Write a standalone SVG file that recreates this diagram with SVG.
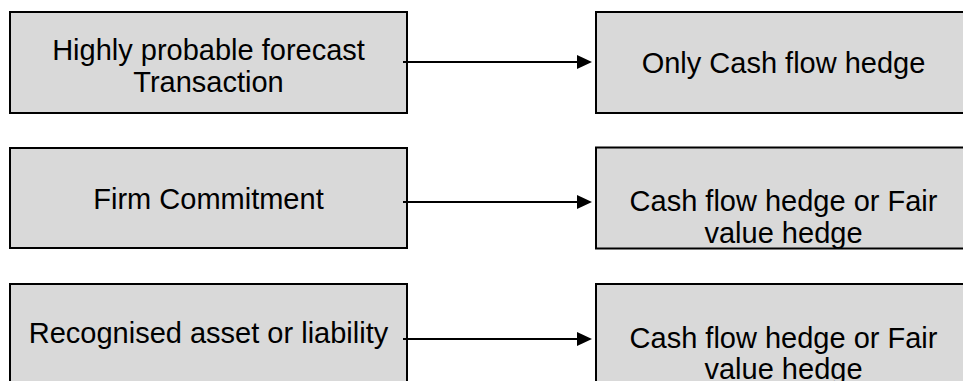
<svg xmlns="http://www.w3.org/2000/svg" width="963" height="381" viewBox="0 0 963 381">
  <defs>
    <style>
      .box { fill: #d9d9d9; stroke: #000000; stroke-width: 2; }
      .label { font-family: "Liberation Sans", Arial, sans-serif; font-size: 29px; fill: #000000; text-anchor: middle; }
      .link { fill: none; stroke: #000000; stroke-width: 2; marker-end: url(#arrow); }
    </style>
    <marker id="arrow" markerUnits="userSpaceOnUse" markerWidth="15" markerHeight="14" viewBox="0 0 15 14" refX="0" refY="7" orient="auto">
      <path d="M0,0 L15,7 L0,14 z" fill="#000000"/>
    </marker>
  </defs>
  <rect width="963" height="381" fill="#ffffff"/>

  <!-- left column: hedged items -->
  <g id="node-forecast">
    <rect class="box" x="10" y="12" width="397" height="101"/>
    <text class="label" x="208.5" y="60">Highly probable forecast</text>
    <text class="label" x="208.5" y="91.5">Transaction</text>
  </g>
  <g id="node-firm">
    <rect class="box" x="10" y="148" width="397" height="100"/>
    <text class="label" x="208.5" y="208.5">Firm Commitment</text>
  </g>
  <g id="node-recognised">
    <rect class="box" x="10" y="284" width="397" height="120"/>
    <text class="label" x="208.5" y="342.5">Recognised asset or liability</text>
  </g>

  <!-- right column: permitted hedge types -->
  <g id="node-cfh-only">
    <rect class="box" x="596" y="12" width="390" height="101"/>
    <text class="label" x="783.5" y="72.5">Only Cash flow hedge</text>
  </g>
  <g id="node-cfh-fvh-1">
    <rect class="box" x="596" y="147.5" width="390" height="101"/>
    <text class="label" x="783.5" y="211">Cash flow hedge or Fair</text>
    <text class="label" x="783.5" y="242.5">value hedge</text>
  </g>
  <g id="node-cfh-fvh-2">
    <rect class="box" x="596" y="284" width="390" height="120"/>
    <text class="label" x="783.5" y="348">Cash flow hedge or Fair</text>
    <text class="label" x="783.5" y="379">value hedge</text>
  </g>

  <!-- connectors -->
  <g id="connectors">
    <path class="link" d="M403,62 H577"/>
    <path class="link" d="M403,202 H577"/>
    <path class="link" d="M403,339 H577"/>
  </g>
</svg>
